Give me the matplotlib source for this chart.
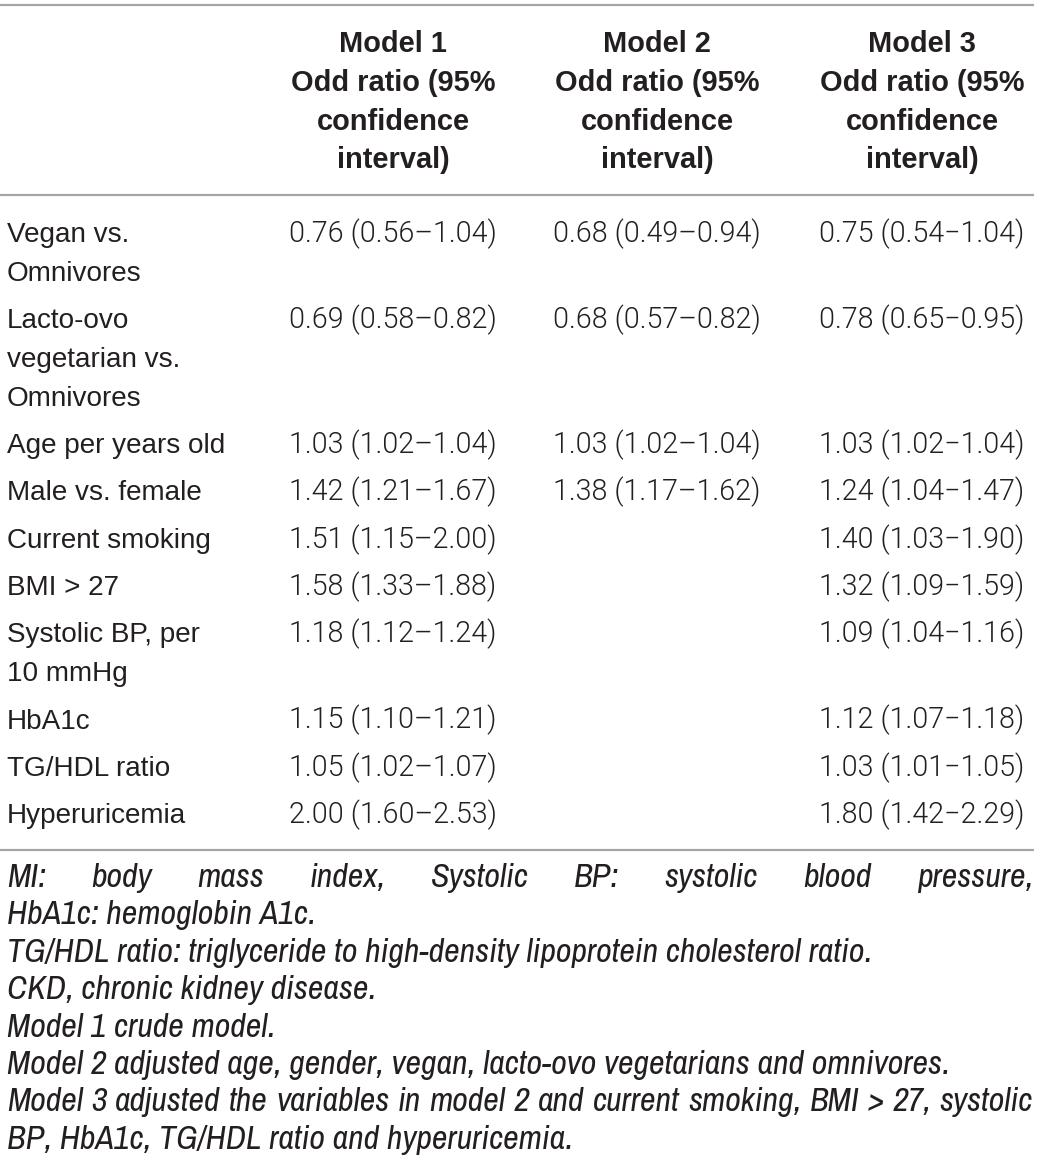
import matplotlib
matplotlib.use("Agg")
import matplotlib.pyplot as plt
from matplotlib import font_manager as fm

# ---------------- data ----------------
row_labels = [
    ["Vegan vs.", "Omnivores"],
    ["Lacto-ovo", "vegetarian vs.", "Omnivores"],
    ["Age per years old"],
    ["Male vs. female"],
    ["Current smoking"],
    ["BMI > 27"],
    ["Systolic BP, per", "10 mmHg"],
    ["HbA1c"],
    ["TG/HDL ratio"],
    ["Hyperuricemia"],
]
header_lines = ["Odd ratio (95%", "confidence", "interval)"]
model_names = ["Model 1", "Model 2", "Model 3"]
model1 = ["0.76 (0.56–1.04)", "0.69 (0.58–0.82)", "1.03 (1.02–1.04)", "1.42 (1.21–1.67)",
          "1.51 (1.15–2.00)", "1.58 (1.33–1.88)", "1.18 (1.12–1.24)", "1.15 (1.10–1.21)",
          "1.05 (1.02–1.07)", "2.00 (1.60–2.53)"]
model2 = ["0.68 (0.49–0.94)", "0.68 (0.57–0.82)", "1.03 (1.02–1.04)", "1.38 (1.17–1.62)",
          "", "", "", "", "", ""]
model3 = ["0.75 (0.54−1.04)", "0.78 (0.65−0.95)", "1.03 (1.02−1.04)", "1.24 (1.04−1.47)",
          "1.40 (1.03−1.90)", "1.32 (1.09−1.59)", "1.09 (1.04−1.16)", "1.12 (1.07−1.18)",
          "1.03 (1.01−1.05)", "1.80 (1.42−2.29)"]
footnotes = [
    "MI: body mass index, Systolic BP: systolic blood pressure,",
    "HbA1c: hemoglobin A1c.",
    "TG/HDL ratio: triglyceride to high-density lipoprotein cholesterol ratio.",
    "CKD, chronic kidney disease.",
    "Model 1 crude model.",
    "Model 2 adjusted age, gender, vegan, lacto-ovo vegetarians and omnivores.",
    "Model 3 adjusted the variables in model 2 and current smoking, BMI > 27, systolic",
    "BP, HbA1c, TG/HDL ratio and hyperuricemia.",
]
justified = [0, 6]

# ---------------- fonts ----------------
faces = {}
for f in fm.fontManager.ttflist:
    try:
        wv = int(f.weight)
    except (TypeError, ValueError):
        wv = 400
    faces.setdefault(f.name, set()).add((f.style, wv))


def pick(options, style="normal"):
    for name, weight in options:
        if name in faces:
            ws = [w for s, w in faces[name] if s == style]
            if ws and (weight is None or weight in ws):
                return name, (weight if weight is not None else "normal")
    return "DejaVu Sans", "normal"


BODY, BODY_W = pick([("Libre Franklin", 300), ("Liberation Sans", None)])
NUM, NUM_W = pick([("Roboto", 300), ("Liberation Sans", None)])
BOLD, BOLD_W = pick([("Libre Franklin", 600), ("Liberation Sans", 700)])
FOOT, FOOT_W = pick([("Archivo Narrow", None), ("Liberation Sans Narrow", None),
                     ("Liberation Sans", None)], "italic")

# ---------------- layout ----------------
W, H = 1040, 1160
fig = plt.figure(figsize=(W / 100, H / 100), dpi=100)
ax = fig.add_axes([0, 0, 1, 1])
ax.set_xlim(0, W)
ax.set_ylim(H, 0)
ax.axis("off")
renderer = fig.canvas.get_renderer()


def fit_size(s, target, **kw):
    t = ax.text(0, 0, s, fontsize=20, **kw)
    w = t.get_window_extent(renderer).width
    t.remove()
    return 20 * target / w


TXT = "#231f20"
LINE = "#a6a6a6"
FS = fit_size("Age per years old", 218, family=BODY, fontweight=BODY_W)
FSN = fit_size(model1[0], 207, family=[NUM, "DejaVu Sans"], fontweight=NUM_W)
FSB = fit_size("Odd ratio (95%", 205, family=BOLD, fontweight=BOLD_W)

label_x = 7
col_centers = [393, 657, 922]

# rules
for y in (5, 195, 850):
    ax.plot([0, 1034], [y, y], color=LINE, lw=1.6, solid_capstyle="butt")

# header
hb0, hstep = 52, 38.8
for cx, name in zip(col_centers, model_names):
    for i, s in enumerate([name] + header_lines):
        ax.text(cx, hb0 + i * hstep, s, ha="center", va="baseline", fontsize=FSB,
                fontweight=BOLD_W, family=BOLD, color=TXT)

# body rows
y = 242.0
lstep, rstep = 38.7, 47.4
for i, lab in enumerate(row_labels):
    for j, s in enumerate(lab):
        ax.text(label_x, y + j * lstep, s, ha="left", va="baseline", fontsize=FS,
                family=BODY, fontweight=BODY_W, color=TXT)
    for cx, vals in zip(col_centers, (model1, model2, model3)):
        if vals[i]:
            ax.text(cx, y, vals[i], ha="center", va="baseline", fontsize=FSN,
                    family=[NUM, "DejaVu Sans"], fontweight=NUM_W, color=TXT)
    y += (len(lab) - 1) * lstep + rstep

# footnotes
fx0, fx1 = 7, 1033
ffs = fit_size(footnotes[6], fx1 - fx0 - 8, family=FOOT, style="italic")
ffs = min(ffs, 26)

fb0, fstep = 887, 37.4
for k, line in enumerate(footnotes):
    yb = fb0 + k * fstep
    if k in justified:
        words = line.split(" ")
        arts = [ax.text(0, yb, wd, ha="left", va="baseline", fontsize=ffs, family=FOOT,
                        style="italic", color=TXT) for wd in words]
        widths = [a.get_window_extent(renderer).width for a in arts]
        gap = (fx1 - fx0 - sum(widths)) / (len(words) - 1)
        x = fx0
        for a, wd in zip(arts, widths):
            a.set_x(x)
            x += wd + gap
    else:
        ax.text(fx0, yb, line, ha="left", va="baseline", fontsize=ffs, family=FOOT,
                style="italic", color=TXT)

fig.savefig("out.png", dpi=100, facecolor="white")
